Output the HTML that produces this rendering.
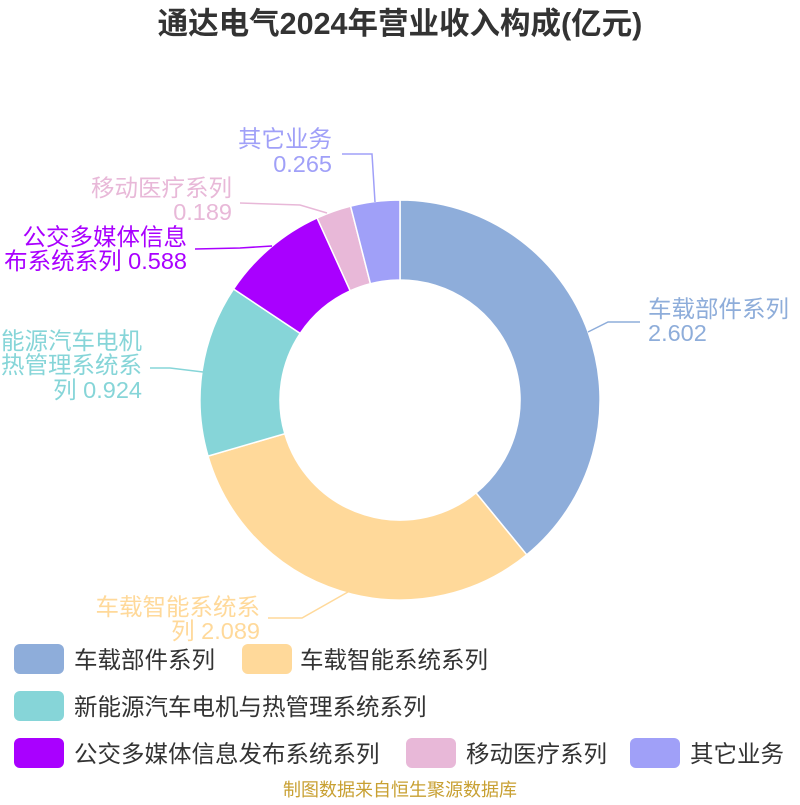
<!DOCTYPE html>
<html><head><meta charset="utf-8"><style>
body{margin:0;background:#fff;}
svg text{font-family:"Liberation Sans","Noto Sans CJK SC",sans-serif;}
</style></head><body>
<svg width="800" height="800" viewBox="0 0 800 800" xmlns="http://www.w3.org/2000/svg">
<rect width="800" height="800" fill="#fff"/>
<text x="400" y="34" text-anchor="middle" font-size="30.5" font-weight="bold" fill="#333">通达电气2024年营业收入构成(亿元)</text>
<g stroke="#fff" stroke-width="1.5">
<path d="M400,200 A200,200 0 0 1 526.7,554.8 L476,492.9 A120,120 0 0 0 400,280 Z" fill="#8EADDA"/>
<path d="M526.7,554.8 A200,200 0 0 1 208,456.1 L284.8,433.7 A120,120 0 0 0 476,492.9 Z" fill="#FFD99A"/>
<path d="M208,456.1 A200,200 0 0 1 233.6,289 L300.2,333.4 A120,120 0 0 0 284.8,433.7 Z" fill="#86D5D8"/>
<path d="M233.6,289 A200,200 0 0 1 317.1,218 L350.2,290.8 A120,120 0 0 0 300.2,333.4 Z" fill="#A900FF"/>
<path d="M317.1,218 A200,200 0 0 1 350.6,206.2 L370.4,283.7 A120,120 0 0 0 350.2,290.8 Z" fill="#E8B8D8"/>
<path d="M350.6,206.2 A200,200 0 0 1 400,200 L400,280 A120,120 0 0 0 370.4,283.7 Z" fill="#A0A0F8"/>
</g>
<g fill="none" stroke-width="1.5">
<polyline points="588,332 608,322 640,322" stroke="#8EADDA"/>
<polyline points="355,588 302,618 268,618" stroke="#FFD99A"/>
<polyline points="203,372 170,368 150,368" stroke="#86D5D8"/>
<polyline points="272,246 240,248 195,249" stroke="#A900FF"/>
<polyline points="327,213 300,205 240,203" stroke="#E8B8D8"/>
<polyline points="375,202 372,154 342,154" stroke="#A0A0F8"/>
</g>
<g font-size="23.5">
<text x="648" y="317" fill="#8EADDA">车载部件系列</text>
<text x="648" y="341" fill="#8EADDA">2.602</text>
<text x="260" y="615" text-anchor="end" fill="#FFD99A">车载智能系统系</text>
<text x="260" y="639" text-anchor="end" fill="#FFD99A">列 2.089</text>
<text x="142" y="349" text-anchor="end" fill="#86D5D8">新能源汽车电机</text>
<text x="142" y="373" text-anchor="end" fill="#86D5D8">热管理系统系</text>
<text x="142" y="398" text-anchor="end" fill="#86D5D8">列 0.924</text>
<text x="187" y="245" text-anchor="end" fill="#A900FF">公交多媒体信息</text>
<text x="187" y="269" text-anchor="end" fill="#A900FF">布系统系列 0.588</text>
<text x="232" y="196" text-anchor="end" fill="#E8B8D8">移动医疗系列</text>
<text x="232" y="220" text-anchor="end" fill="#E8B8D8">0.189</text>
<text x="332" y="147" text-anchor="end" fill="#A0A0F8">其它业务</text>
<text x="332" y="172" text-anchor="end" fill="#A0A0F8">0.265</text>
</g>
<g font-size="23.5" fill="#333">
<rect x="14" y="644" width="50" height="30" rx="6" fill="#8EADDA"/><text x="74" y="668">车载部件系列</text>
<rect x="242" y="644" width="50" height="30" rx="6" fill="#FFD99A"/><text x="300" y="668">车载智能系统系列</text>
<rect x="14" y="691" width="50" height="30" rx="6" fill="#86D5D8"/><text x="74" y="715">新能源汽车电机与热管理系统系列</text>
<rect x="14" y="738" width="50" height="30" rx="6" fill="#A900FF"/><text x="74" y="762">公交多媒体信息发布系统系列</text>
<rect x="406" y="738" width="50" height="30" rx="6" fill="#E8B8D8"/><text x="466" y="762">移动医疗系列</text>
<rect x="630" y="738" width="50" height="30" rx="6" fill="#A0A0F8"/><text x="690" y="762">其它业务</text>
</g>
<text x="400" y="796" text-anchor="middle" font-size="18" fill="#C8A032">制图数据来自恒生聚源数据库</text>
</svg>
</body></html>
